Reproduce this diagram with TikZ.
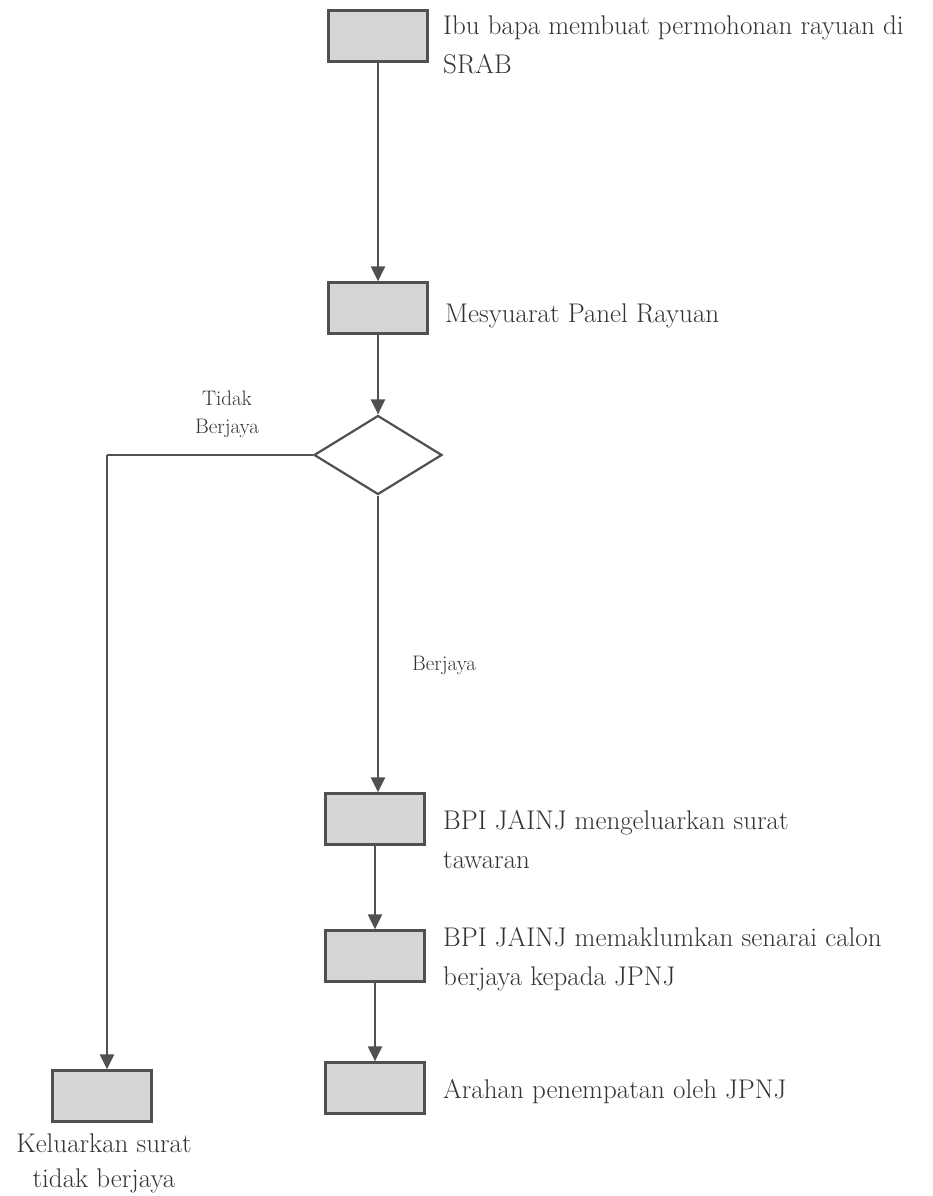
\documentclass[tikz,border=0pt]{standalone}
\usetikzlibrary{shapes.geometric,arrows.meta}
\definecolor{ln}{HTML}{505050}
\definecolor{bx}{HTML}{D6D6D6}
\definecolor{tx}{HTML}{333333}
\tikzset{
  x=1pt,y=-1pt,
  procbox/.style={draw=ln,fill=bx,line width=2.3pt,minimum width=99pt,minimum height=51pt,inner sep=0pt},
  decbox/.style={draw=ln,fill=white,line width=2.2pt,diamond,aspect=1.62,minimum width=128pt,minimum height=79pt,inner sep=0pt},
  flow/.style={draw=ln,line width=2.2pt,-{Triangle[width=14pt,length=15pt]}},
  plainline/.style={draw=ln,line width=2.2pt},
  desc/.style={text=tx,inner sep=0pt,align=left,font=\fontsize{27}{39}\selectfont},
  lbl/.style={text=tx,inner sep=0pt,align=center,font=\fontsize{21}{28}\selectfont},
}
\begin{document}
\begin{tikzpicture}
\useasboundingbox (0,0) rectangle (933,1196);
\fill[white] (0,0) rectangle (933,1196);

\node[procbox] (b1) at (378,36) {};
\node[procbox] (b2) at (378,308) {};
\node[decbox] (dia) at (378,455) {};
\node[procbox] (b3) at (375,819) {};
\node[procbox] (b4) at (375,956) {};
\node[procbox] (b5) at (375,1088) {};
\node[procbox] (lb) at (102,1096) {};
\coordinate (corner) at (107,455);

\node[desc,anchor=west] (t1) at (443,45) {Ibu bapa membuat permohonan rayuan di\\SRAB};
\node[desc,anchor=west] (t2) at (445,316) {Mesyuarat Panel Rayuan};
\node[desc,anchor=west] (t3) at (443,840) {BPI JAINJ mengeluarkan surat\\tawaran};
\node[desc,anchor=west] (t4) at (443,959) {BPI JAINJ memaklumkan senarai calon\\berjaya kepada JPNJ};
\node[desc,anchor=west] (t5) at (443,1092) {Arahan penempatan oleh JPNJ};
\node[desc,align=center,font=\fontsize{27}{35}\selectfont] (tl) at (104,1163) {Keluarkan surat\\tidak berjaya};

\node[lbl] (ltb) at (227,414) {Tidak\\Berjaya};
\node[lbl,anchor=west] (lb2) at (412,665) {Berjaya};

\draw[flow] (b1.south) -- (b2.north);
\draw[flow] (b2.south) -- (dia.north);
\draw[flow] (dia.south) -- (dia.south |- b3.north);
\draw[flow] (b3.south) -- (b4.north);
\draw[flow] (b4.south) -- (b5.north);
\draw[plainline] (dia.west) -- (corner);
\draw[flow] (corner) -- (corner |- lb.north);
\end{tikzpicture}
\end{document}
